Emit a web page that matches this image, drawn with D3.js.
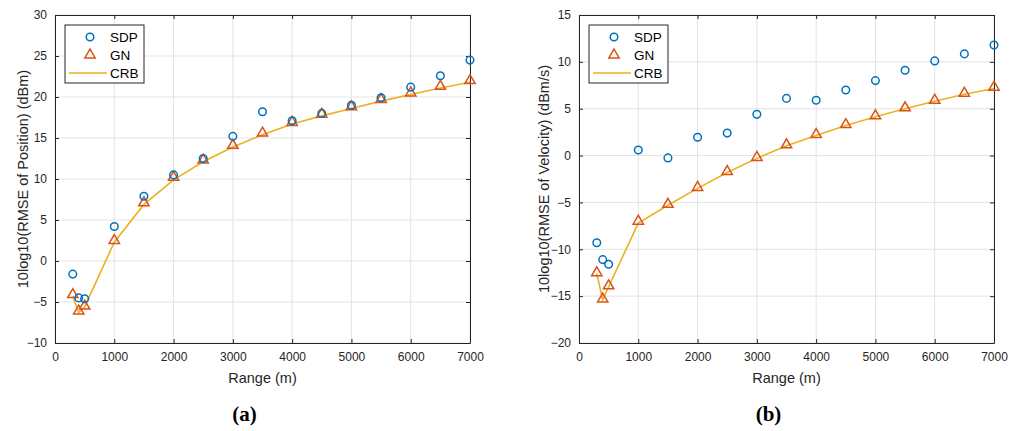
<!DOCTYPE html>
<html>
<head>
<meta charset="utf-8">
<script src="https://cdn.jsdelivr.net/npm/d3@7"></script>
<style>
  html, body { margin: 0; padding: 0; background: #fff; }
  svg { display: block; font-family: "Liberation Sans", Arial, sans-serif; }
</style>
</head>
<body>
<svg id="chart" width="1019" height="431"></svg>
<script>
const ranges = [300, 400, 500, 1000, 1500, 2000, 2500, 3000, 3500, 4000, 4500, 5000, 5500, 6000, 6500, 7000];

const posSDP = [-1.6, -4.5, -4.6, 4.2, 7.9, 10.5, 12.5, 15.2, 18.2, 17.1, 18.0, 19.0, 19.9, 21.2, 22.6, 24.5];
const posGN  = [-4.1, -6.1, -5.5, 2.5, 7.1, 10.2, 12.3, 14.1, 15.6, 16.9, 17.9, 18.8, 19.7, 20.5, 21.3, 22.0];
const posCRB = [-4.3, -6.3, -5.6, 2.3, 6.9, 9.9, 12.1, 13.9, 15.4, 16.7, 17.7, 18.6, 19.5, 20.3, 21.1, 21.8];

const velSDP = [-9.3, -11.1, -11.6, 0.6, -0.25, 1.95, 2.4, 4.4, 6.1, 5.9, 7.0, 8.0, 9.1, 10.1, 10.85, 11.8];
const velGN  = [-12.5, -15.3, -13.9, -7.0, -5.2, -3.4, -1.7, -0.2, 1.15, 2.25, 3.3, 4.25, 5.1, 5.9, 6.65, 7.3];
const velCRB = [-12.6, -15.4, -14.0, -7.2, -5.3, -3.5, -1.8, -0.3, 1.05, 2.15, 3.2, 4.15, 5.0, 5.8, 6.55, 7.15];

const xTicks = [0, 1000, 2000, 3000, 4000, 5000, 6000, 7000];
const posYTicks = [-10, -5, 0, 5, 10, 15, 20, 25, 30];
const velYTicks = [-20, -15, -10, -5, 0, 5, 10, 15];

const seriesNames = ["SDP", "GN", "CRB"];
const colors = { SDP: "#0072BD", GN: "#D95319", CRB: "#EDB120" };
const axisColor = "#262626";
const gridColor = "#e3e3e3";

const svg = d3.select("#chart");

function drawPanel(cfg) {
  const { left, right, top, bottom, yDomain, yTicks, sdp, gn, crb, yLabel, caption, labelOffset } = cfg;
  const x = d3.scaleLinear().domain([0, 7000]).range([left, right]);
  const y = d3.scaleLinear().domain(yDomain).range([bottom, top]);
  const g = svg.append("g");

  // grid
  g.append("g").selectAll("line.gx").data(xTicks).join("line")
    .attr("x1", d => x(d)).attr("x2", d => x(d)).attr("y1", top).attr("y2", bottom)
    .attr("stroke", gridColor).attr("stroke-width", 1);
  g.append("g").selectAll("line.gy").data(yTicks).join("line")
    .attr("x1", left).attr("x2", right).attr("y1", d => y(d)).attr("y2", d => y(d))
    .attr("stroke", gridColor).attr("stroke-width", 1);

  // axes (inward ticks)
  const tl = 4;
  const bottomAxis = d3.axisBottom(x).tickValues(xTicks).tickSizeInner(-tl).tickSizeOuter(0).tickPadding(9).tickFormat(d3.format("d"));
  const topAxis = d3.axisTop(x).tickValues(xTicks).tickSizeInner(-tl).tickSizeOuter(0).tickFormat("");
  const leftAxis = d3.axisLeft(y).tickValues(yTicks).tickSizeInner(-tl).tickSizeOuter(0).tickPadding(8).tickFormat(d3.format("d"));
  const rightAxis = d3.axisRight(y).tickValues(yTicks).tickSizeInner(-tl).tickSizeOuter(0).tickFormat("");

  const styleAxis = sel => {
    sel.selectAll("path").attr("stroke", axisColor).attr("stroke-width", 1);
    sel.selectAll("line").attr("stroke", axisColor);
    sel.selectAll("text").attr("fill", axisColor).attr("font-size", "12px")
      .attr("font-family", "'Liberation Sans', Arial, sans-serif");
  };
  g.append("g").attr("transform", `translate(0,${bottom})`).call(bottomAxis).call(styleAxis);
  g.append("g").attr("transform", `translate(0,${top})`).call(topAxis).call(styleAxis);
  g.append("g").attr("transform", `translate(${left},0)`).call(leftAxis).call(styleAxis);
  g.append("g").attr("transform", `translate(${right},0)`).call(rightAxis).call(styleAxis);

  // CRB line
  const line = d3.line().x((d, i) => x(ranges[i])).y(d => y(d));
  g.append("path").datum(crb).attr("d", line)
    .attr("fill", "none").attr("stroke", colors.CRB).attr("stroke-width", 1.6);

  // GN triangles
  const tri = d3.symbol().type(d3.symbolTriangle).size(46);
  g.append("g").selectAll("path").data(gn).join("path")
    .attr("d", tri)
    .attr("transform", (d, i) => `translate(${x(ranges[i])},${y(d)})`)
    .attr("fill", "none").attr("stroke", colors.GN).attr("stroke-width", 1.5);

  // SDP circles
  g.append("g").selectAll("circle").data(sdp).join("circle")
    .attr("cx", (d, i) => x(ranges[i])).attr("cy", d => y(d)).attr("r", 3.8)
    .attr("fill", "none").attr("stroke", colors.SDP).attr("stroke-width", 1.5);

  // labels
  g.append("text").attr("x", (left + right) / 2).attr("y", 383)
    .attr("text-anchor", "middle").attr("font-size", "14.5px").attr("fill", axisColor)
    .text("Range (m)");
  g.append("text")
    .attr("transform", `translate(${left - labelOffset},${(top + bottom) / 2}) rotate(-90)`)
    .attr("text-anchor", "middle").attr("font-size", "14.5px").attr("fill", axisColor)
    .text(yLabel);
  g.append("text").attr("x", (left + right) / 2 - 18).attr("y", 421)
    .attr("text-anchor", "middle").attr("font-size", "21px").attr("font-weight", "bold")
    .attr("font-family", "'Liberation Serif', 'DejaVu Serif', serif").attr("fill", "#000")
    .text(caption);

  // legend
  const lx = left + 10, ly = 25, lw = 79, lh = 58;
  const lg = g.append("g");
  lg.append("rect").attr("x", lx).attr("y", ly).attr("width", lw).attr("height", lh)
    .attr("fill", "#fff").attr("stroke", axisColor).attr("stroke-width", 1);
  const rowY = [37, 55, 73];
  seriesNames.forEach((name, i) => {
    const cy = rowY[i];
    const mx = lx + 25;
    if (name === "SDP") {
      lg.append("circle").attr("cx", mx).attr("cy", cy).attr("r", 3.8)
        .attr("fill", "none").attr("stroke", colors.SDP).attr("stroke-width", 1.5);
    } else if (name === "GN") {
      lg.append("path").attr("d", tri).attr("transform", `translate(${mx},${cy})`)
        .attr("fill", "none").attr("stroke", colors.GN).attr("stroke-width", 1.5);
    } else {
      lg.append("line").attr("x1", lx + 4).attr("x2", lx + 42).attr("y1", cy).attr("y2", cy)
        .attr("stroke", colors.CRB).attr("stroke-width", 1.6);
    }
    lg.append("text").attr("x", lx + 45).attr("y", cy + 5)
      .attr("font-size", "13.5px").attr("fill", "#000").text(name);
  });
}

drawPanel({
  left: 55, right: 470, top: 15, bottom: 343,
  yDomain: [-10, 30], yTicks: posYTicks,
  sdp: posSDP, gn: posGN, crb: posCRB,
  yLabel: "10log10(RMSE of Position) (dBm)", caption: "(a)", labelOffset: 27
});
drawPanel({
  left: 579, right: 994, top: 15, bottom: 343,
  yDomain: [-20, 15], yTicks: velYTicks,
  sdp: velSDP, gn: velGN, crb: velCRB,
  yLabel: "10log10(RMSE of Velocity) (dBm/s)", caption: "(b)", labelOffset: 30
});
</script>
</body>
</html>
